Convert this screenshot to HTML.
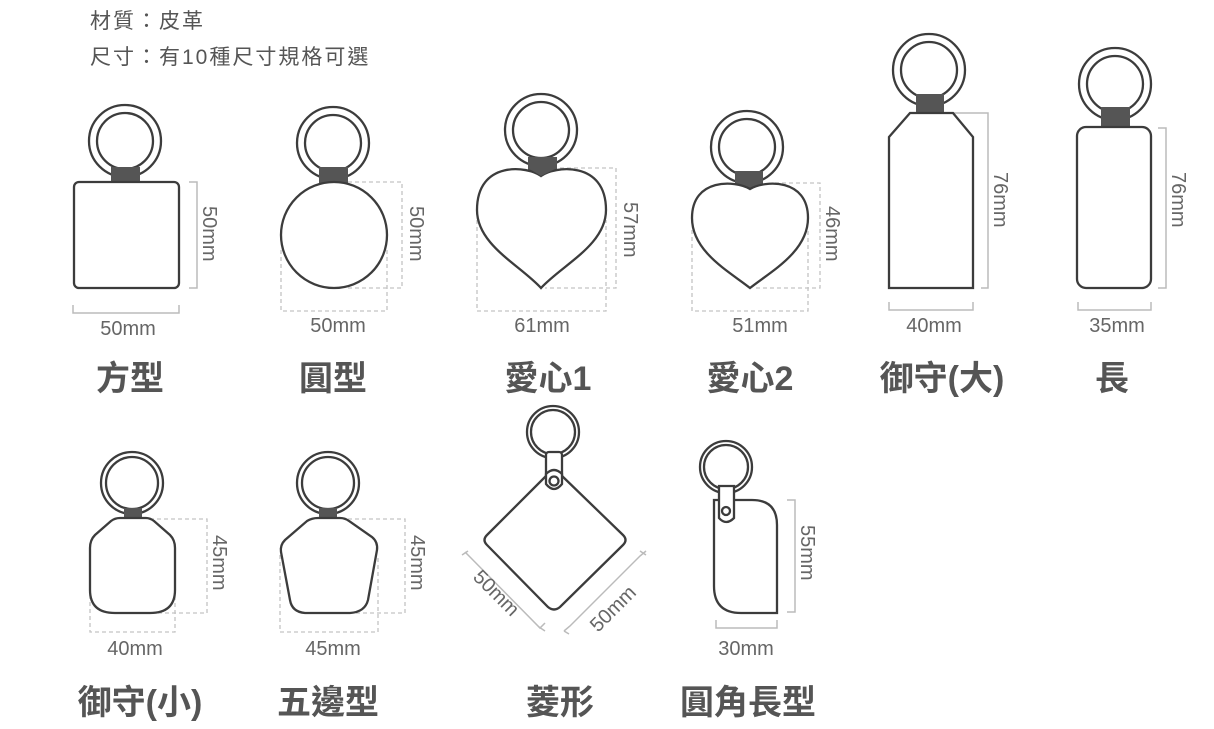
<!DOCTYPE html>
<html><head><meta charset="utf-8"><style>
html,body{margin:0;padding:0;background:#fff;}
svg{display:block;}
.s{fill:#fff;stroke:#3c3c3c;stroke-width:2.3;}
.t{fill:#555;stroke:none;}
.d{fill:none;stroke:#bbb;stroke-width:1.5;}
.dd{fill:none;stroke:#c4c4c4;stroke-width:1.3;stroke-dasharray:4 3;}
.m{font-family:"Liberation Sans",sans-serif;font-size:20px;fill:#666;}
.l{font-family:"Liberation Sans","Noto Sans CJK TC",sans-serif;font-size:34px;font-weight:bold;fill:#555;text-anchor:middle;}
.h{font-family:"Liberation Sans","Noto Sans CJK TC",sans-serif;font-size:21px;letter-spacing:2px;fill:#555;}
</style></head><body>
<svg width="1214" height="729" viewBox="0 0 1214 729" xmlns="http://www.w3.org/2000/svg">
<defs>
<g id="ring"><circle r="36" class="s"/><circle r="28" class="s"/></g>
</defs>
<text x="90" y="28" class="h">材質：皮革</text>
<text x="90" y="64" class="h">尺寸：有10種尺寸規格可選</text>

<!-- square -->
<use href="#ring" x="125" y="141"/>
<rect x="111" y="167" width="29" height="16" class="t"/>
<rect x="74" y="182" width="105" height="106" rx="5" class="s"/>
<path d="M189,182 H197 V288 H189" class="d"/>
<text class="m" transform="translate(203,206) rotate(90)">50mm</text>
<path d="M73,305 V313 H179 V305" class="d"/>
<text x="128" y="335" class="m" text-anchor="middle">50mm</text>
<text x="130" y="390" class="l">方型</text>

<!-- circle -->
<use href="#ring" x="333" y="143"/>
<rect x="319" y="167" width="29" height="17" class="t"/>
<path d="M348,182 H402 V288 H348 M281,250 V311 H387 V250" class="dd"/>
<circle cx="334" cy="235" r="53" class="s"/>
<text class="m" transform="translate(410,206) rotate(90)">50mm</text>
<text x="338" y="332" class="m" text-anchor="middle">50mm</text>
<text x="333" y="390" class="l">圓型</text>

<!-- heart1 -->
<use href="#ring" x="541" y="130"/>
<rect x="528" y="157" width="29" height="16" class="t"/>
<path d="M560,168 H616 V288 H545 M477,220 V311 H606 V220" class="dd"/>
<path d="M541,176 C528,166 477,160 477,210 C477,245 520,265 541,288 C562,265 606,245 606,210 C606,160 554,166 541,176 Z" class="s"/>
<polygon points="528,168 557,168 541,176" class="t"/>
<text class="m" transform="translate(624,202) rotate(90)">57mm</text>
<text x="542" y="332" class="m" text-anchor="middle">61mm</text>
<text x="548" y="390" class="l">愛心1</text>

<!-- heart2 -->
<use href="#ring" x="747" y="147"/>
<rect x="735" y="171" width="28" height="18" class="t"/>
<path d="M775,183 H820 V288 H755 M692,230 V311 H808 V230" class="dd"/>
<path d="M750,189 C735,180 692,178 692,218 C692,252 730,272 750,288 C770,272 808,252 808,218 C808,178 765,180 750,189 Z" class="s"/>
<text class="m" transform="translate(826,206) rotate(90)">46mm</text>
<text x="760" y="332" class="m" text-anchor="middle">51mm</text>
<text x="750" y="390" class="l">愛心2</text>

<!-- omamori big -->
<use href="#ring" x="929" y="70"/>
<rect x="916" y="94" width="28" height="20" class="t"/>
<path d="M953,113 H988 V288 H981" class="d"/>
<polygon points="889,137 910,113 953,113 973,137 973,288 889,288" class="s"/>
<text class="m" transform="translate(994,172) rotate(90)">76mm</text>
<path d="M889,302 V310 H973 V302" class="d"/>
<text x="934" y="332" class="m" text-anchor="middle">40mm</text>
<text x="942" y="390" class="l">御守(大)</text>

<!-- long -->
<use href="#ring" x="1115" y="84"/>
<rect x="1101" y="107" width="29" height="20" class="t"/>
<rect x="1077" y="127" width="74" height="161" rx="9" class="s"/>
<path d="M1158,128 H1166 V288 H1158" class="d"/>
<text class="m" transform="translate(1172,172) rotate(90)">76mm</text>
<path d="M1078,302 V310 H1151 V302" class="d"/>
<text x="1117" y="332" class="m" text-anchor="middle">35mm</text>
<text x="1112" y="390" class="l">長</text>

<!-- omamori small -->
<circle cx="132" cy="483" r="31" class="s"/><circle cx="132" cy="483" r="26" class="s"/>
<rect x="124" y="508" width="18" height="10" class="t"/>
<path d="M150,519 H207 V613 H150 M90,595 V632 H175 V595" class="dd"/>
<path d="M120,518 H146 Q150,518 154,521 L170,535 Q175,540 175,548 V590 Q175,613 150,613 H115 Q90,613 90,590 V548 Q90,540 95,535 L111,521 Q115,518 120,518 Z" class="s"/>
<text class="m" transform="translate(213,535) rotate(90)">45mm</text>
<text x="135" y="655" class="m" text-anchor="middle">40mm</text>
<text x="140" y="714" class="l">御守(小)</text>

<!-- pentagon -->
<circle cx="328" cy="483" r="31" class="s"/><circle cx="328" cy="483" r="26" class="s"/>
<rect x="319" y="508" width="18" height="10" class="t"/>
<path d="M348,519 H405 V613 H348 M280,555 V632 H378 V555" class="dd"/>
<path d="M318,518 H340 Q345,518 349,521 L372,537 Q378,542 377,550 L368,600 Q365,612 350,613 H305 Q292,612 290,600 L281,552 Q280,545 285,540 L307,521 Q312,518 318,518 Z" class="s"/>
<text class="m" transform="translate(411,535) rotate(90)">45mm</text>
<text x="333" y="655" class="m" text-anchor="middle">45mm</text>
<text x="328" y="714" class="l">五邊型</text>

<!-- diamond -->
<circle cx="553" cy="432" r="26" class="s"/><circle cx="553" cy="432" r="22" class="s"/>
<rect x="546" y="452" width="16" height="30" rx="3" class="s"/>
<path d="M548,474 Q554,468 560,474 L623,535 Q628,540 623,545 L560,607 Q554,612 548,607 L487,545 Q482,540 487,535 Z" class="s"/>
<path d="M546,474 Q554,466 562,474 V484 Q554,494 546,484 Z" class="s"/>
<circle cx="554" cy="481" r="4.5" class="s"/>
<path d="M465,552 L470,557 L540,628 L545,623" class="d"/>
<path d="M462,555 L468,551 M545,631 L539,627" class="d"/>
<path d="M564,631 L570,626 L640,556 L646,551" class="d"/>
<path d="M564,631 L569,634 M640,551 L646,555" class="d"/>
<text class="m" transform="translate(472,578) rotate(45)">50mm</text>
<text class="m" transform="translate(598,633) rotate(-45)">50mm</text>
<text x="560" y="714" class="l">菱形</text>

<!-- rounded rect -->
<circle cx="726" cy="467" r="26" class="s"/><circle cx="726" cy="467" r="22" class="s"/>
<path d="M714,500 H752 Q777,500 777,525 V613 H741 Q714,613 714,586 Z" class="s"/>
<path d="M719,486 H734 V518 Q726,526 719,518 Z" class="s"/>
<circle cx="726" cy="511" r="4" class="s"/>
<path d="M787,500 H795 V612 H787" class="d"/>
<text class="m" transform="translate(801,525) rotate(90)">55mm</text>
<path d="M716,620 V628 H777 V620" class="d"/>
<text x="746" y="655" class="m" text-anchor="middle">30mm</text>
<text x="748" y="714" class="l">圓角長型</text>
</svg>
</body></html>
